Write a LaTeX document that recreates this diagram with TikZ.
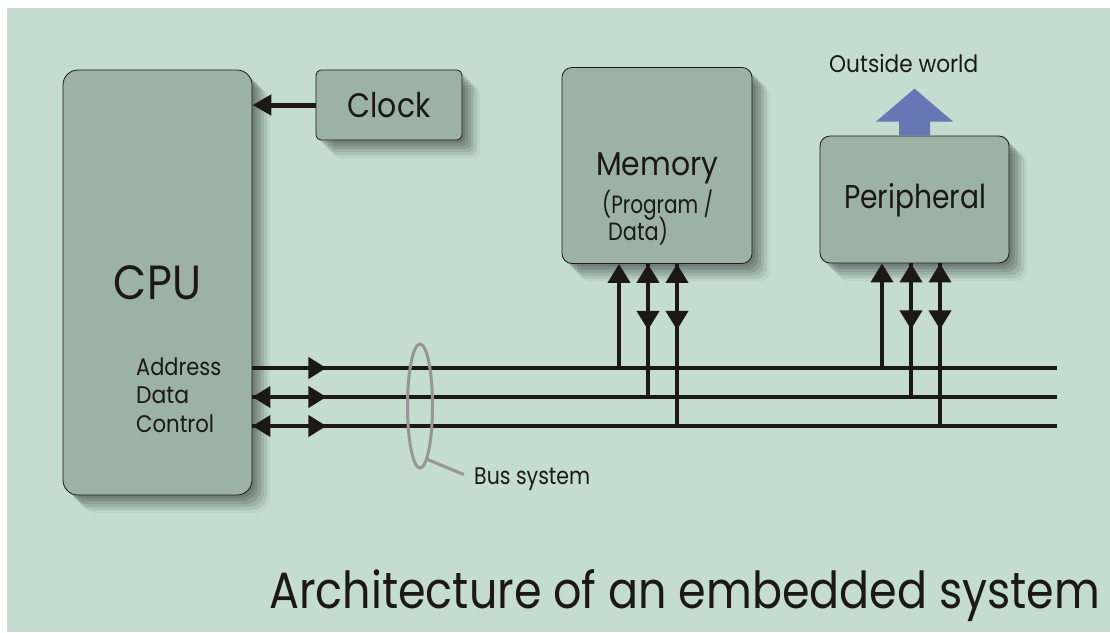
\documentclass[tikz,border=0pt]{standalone}
\usepackage{fontspec}
\usepackage{graphicx}
\setmainfont{Poppins}
\usetikzlibrary{arrows.meta,shadows,shapes.geometric}
\definecolor{bg}{HTML}{C4DDD0}
\definecolor{boxc}{HTML}{9BB2A5}
\definecolor{ink}{HTML}{1C1816}
\definecolor{outc}{HTML}{6577B4}
\definecolor{ringc}{HTML}{969696}
\newcommand{\fitw}[2]{\resizebox{#1}{\height}{#2}}
\tikzset{
  bustip/.tip={Triangle[length=18pt,width=21pt]},
  verttip/.tip={Triangle[length=19pt,width=22pt]},
  clocktip/.tip={Triangle[length=19pt,width=20pt]}
}
\begin{document}
\begin{tikzpicture}[x=1pt,y=-1pt,
  softshadow/.style={
    drop shadow={shadow xshift=3pt,shadow yshift=-3pt,opacity=.1,fill=black},
    drop shadow={shadow xshift=6pt,shadow yshift=-6pt,opacity=.1,fill=black},
    drop shadow={shadow xshift=9pt,shadow yshift=-9pt,opacity=.1,fill=black},
    drop shadow={shadow xshift=12pt,shadow yshift=-12pt,opacity=.09,fill=black},
    drop shadow={shadow xshift=15pt,shadow yshift=-15pt,opacity=.07,fill=black},
    drop shadow={shadow xshift=18pt,shadow yshift=-18pt,opacity=.04,fill=black}},
  block/.style={draw=ink,line width=0.8pt,fill=boxc,inner sep=0pt,softshadow,text=ink},
  txt/.style={text=ink,inner sep=0pt,anchor=base west},
  bus/.style={draw=ink,line width=4pt}
]
\useasboundingbox (0,0) rectangle (1110,632);
\fill[bg] (7,8) rectangle (1110,632);

% boxes
\node[block,rounded corners=15pt,minimum width=189pt,minimum height=425pt,
      font=\fontsize{48}{48}\selectfont,text height=34pt,text depth=0pt] (cpu) at (157.5,282.5) {\fitw{87pt}{CPU}};
\node[block,rounded corners=5pt,minimum width=146pt,minimum height=70pt,
      font=\fontsize{34}{34}\selectfont,text height=24pt,text depth=0pt] (clock) at (389,105) {\fitw{83pt}{Clock}};
\node[block,rounded corners=10pt,minimum width=190pt,minimum height=196pt] (mem) at (657,165.5) {};
\node[block,rounded corners=10pt,minimum width=189pt,minimum height=127pt] (peri) at (914.5,199.5) {};

% texts
\node[txt,font=\fontsize{33}{33}\selectfont] (memT) at (596,175) {\fitw{122pt}{Memory}};
\node[txt,font=\fontsize{25}{25}\selectfont] (progT) at (602,213) {\fitw{111pt}{(Program /}};
\node[txt,font=\fontsize{25}{25}\selectfont] (dataT) at (608,240) {\fitw{60pt}{Data)}};
\node[txt,font=\fontsize{33}{33}\selectfont] (periT) at (844,208) {\fitw{142pt}{Peripheral}};
\node[txt,font=\fontsize{24}{24}\selectfont] (outT) at (829,72) {\fitw{149pt}{Outside world}};
\node[txt,font=\fontsize{24}{24}\selectfont] (adrT) at (136,375) {\fitw{85pt}{Address}};
\node[txt,font=\fontsize{24}{24}\selectfont] (datT) at (136,403) {\fitw{53pt}{Data}};
\node[txt,font=\fontsize{24}{24}\selectfont] (ctlT) at (136,432) {\fitw{78pt}{Control}};
\node[txt,font=\fontsize{24}{24}\selectfont] (busT) at (474,484) {\fitw{116pt}{Bus system}};
\node[txt,font=\fontsize{51}{51}\selectfont] (title) at (269,608) {\fitw{831pt}{Architecture of an embedded system}};

% clock arrow
\draw[draw=ink,line width=5pt,-{clocktip}] (clock.west) -- (clock.west -| cpu.east);

% outside world arrow
\fill[outc] ([xshift=-15.5pt]peri.north) -- ++(0,-14) -- ++(-23,0) -- ++(38.5,-33)
  -- ++(38.5,33) -- ++(-23,0) -- ++(0,14) -- cycle;

% bus lines
\coordinate (aE) at (1057,368);
\coordinate (dE) at (1057,397);
\coordinate (cE) at (1057,426);
\draw[bus] (cpu.east |- aE) -- (aE);
\draw[bus] (cpu.east |- dE) -- (dE);
\draw[bus] (cpu.east |- cE) -- (cE);
\draw[bus,-{bustip}] (cpu.east |- aE) -- ++(74,0);
\draw[bus,{bustip}-{bustip}] (cpu.east |- dE) -- ++(74,0);
\draw[bus,{bustip}-{bustip}] (cpu.east |- cE) -- ++(74,0);

% memory connections
\coordinate (m1) at (619,368);
\coordinate (m2) at (648,397);
\coordinate (m3) at (677,426);
\draw[bus,-{verttip}] (m1) -- (m1 |- mem.south);
\draw[bus,-{verttip}] (m2) -- (m2 |- mem.south);
\draw[bus,-{verttip}] (m3) -- (m3 |- mem.south);
\draw[bus,-{verttip}] (m2 |- mem.south) -- ++(0,66);
\draw[bus,-{verttip}] (m3 |- mem.south) -- ++(0,66);

% peripheral connections
\coordinate (p1) at (882,368);
\coordinate (p2) at (911,397);
\coordinate (p3) at (940,426);
\draw[bus,-{verttip}] (p1) -- (p1 |- peri.south);
\draw[bus,-{verttip}] (p2) -- (p2 |- peri.south);
\draw[bus,-{verttip}] (p3) -- (p3 |- peri.south);
\draw[bus,-{verttip}] (p2 |- peri.south) -- ++(0,66);
\draw[bus,-{verttip}] (p3 |- peri.south) -- ++(0,66);

% bus system ring
\node[draw=ringc,line width=3pt,ellipse,inner sep=0pt,minimum width=25pt,minimum height=124pt] (ring) at (420,406) {};
\draw[draw=ringc,line width=3pt,shorten >=11pt] (ring.-82) -- (busT.west);
\end{tikzpicture}
\end{document}
